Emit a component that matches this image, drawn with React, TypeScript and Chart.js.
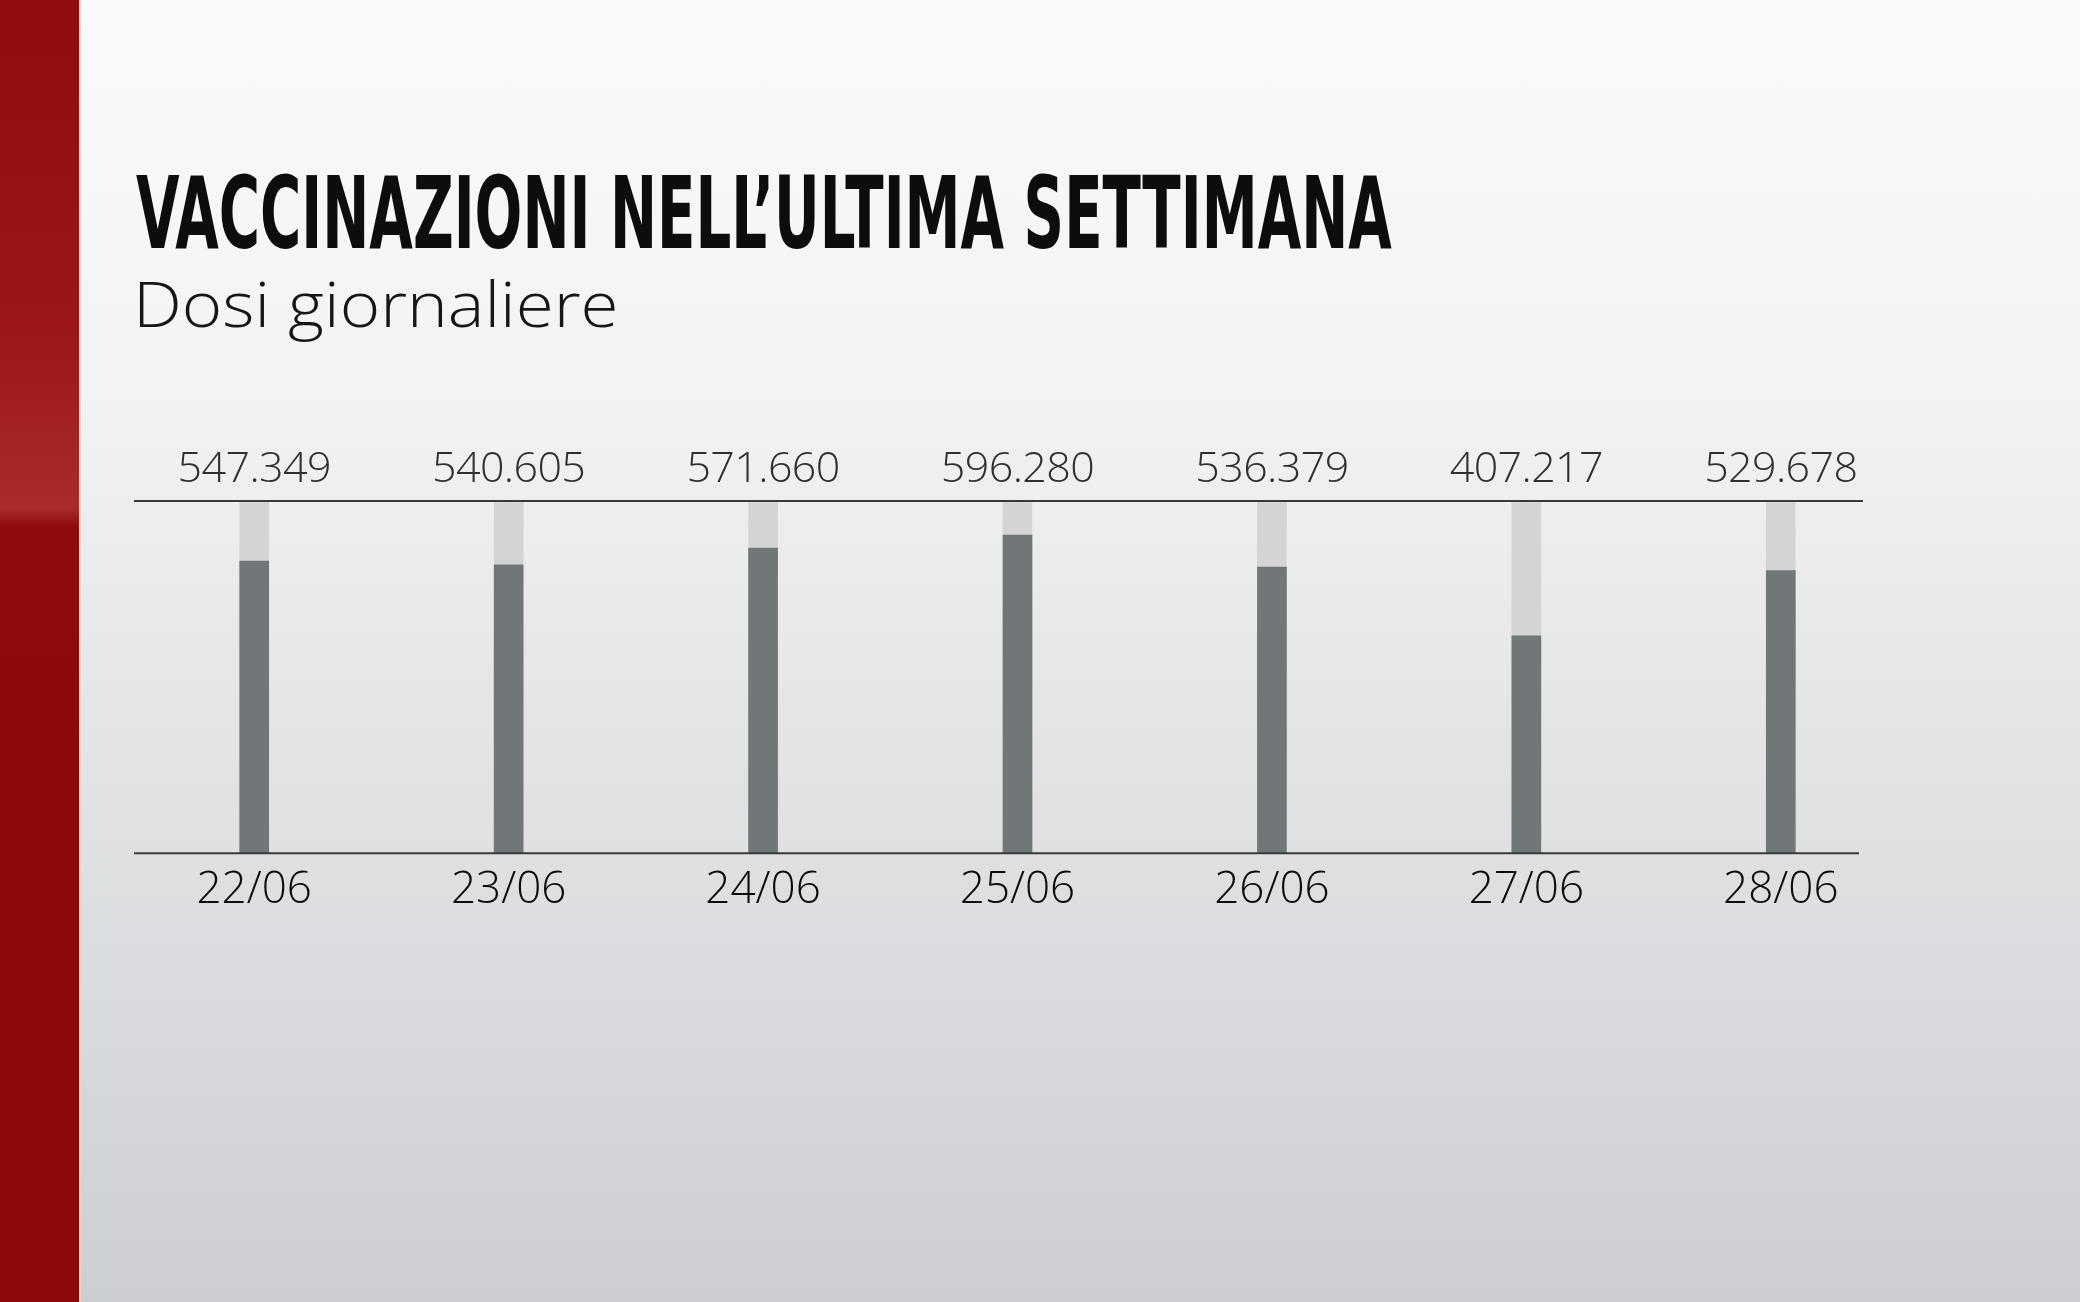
import React, { useEffect, useLayoutEffect, useRef } from 'react';
import { Chart, registerables } from 'chart.js';

Chart.register(...registerables);

const TITLE = 'VACCINAZIONI NELL’ULTIMA SETTIMANA';
const SUBTITLE = 'Dosi giornaliere';
const DATES = ['22/06', '23/06', '24/06', '25/06', '26/06', '27/06', '28/06'];
const DOSES = [547349, 540605, 571660, 596280, 536379, 407217, 529678];
const SCALE_MAX = 660000;
const TRACK = [660000, 660000, 660000, 660000, 660000, 660000, 660000];

function fmt(n: number): string {
  return String(n).replace(/\B(?=(\d{3})+(?!\d))/g, '.');
}

const decor = {
  id: 'decor',
  afterDatasetsDraw(chart: any) {
    const { ctx, chartArea } = chart;
    ctx.save();
    ctx.strokeStyle = '#3a3a3c';
    ctx.lineWidth = 2;
    ctx.beginPath();
    ctx.moveTo(chartArea.left + 7, chartArea.top);
    ctx.lineTo(chartArea.right - 45, chartArea.top);
    ctx.stroke();
    ctx.beginPath();
    ctx.moveTo(chartArea.left + 7, chartArea.bottom);
    ctx.lineTo(chartArea.right - 49, chartArea.bottom);
    ctx.stroke();
    const meta = chart.getDatasetMeta(0);
    ctx.fillStyle = '#303030';
    ctx.font = '300 43px "Open Sans"';
    try {
      (ctx as any).letterSpacing = '-0.6px';
    } catch (e) {}
    ctx.textAlign = 'center';
    ctx.textBaseline = 'alphabetic';
    meta.data.forEach((bar: any, i: number) => {
      ctx.fillText(fmt(DOSES[i]), bar.x, chartArea.top - 19);
    });
    ctx.restore();
  },
};

export default function App() {
  const canvasRef = useRef<HTMLCanvasElement | null>(null);
  const titleRef = useRef<HTMLSpanElement | null>(null);
  const subRef = useRef<HTMLSpanElement | null>(null);

  useLayoutEffect(() => {
    const fit = (el: HTMLSpanElement | null, target: number) => {
      if (!el) return;
      el.style.transform = 'none';
      const w = el.offsetWidth;
      if (w > 0) el.style.transform = `scaleX(${target / w})`;
    };
    fit(titleRef.current, 1256);
    fit(subRef.current, 486);
  }, []);

  useEffect(() => {
    if (!canvasRef.current) return;
    const chart = new Chart(canvasRef.current, {
      type: 'bar',
      data: {
        labels: DATES,
        datasets: [
          {
            data: DOSES,
            backgroundColor: '#717679',
            grouped: false,
            order: 1,
            barThickness: 29,
          } as any,
          {
            data: TRACK,
            backgroundColor: '#d4d4d6',
            grouped: false,
            order: 2,
            barThickness: 29,
          } as any,
        ],
      },
      options: {
        animation: false,
        responsive: false,
        maintainAspectRatio: false,
        layout: { padding: { left: 127, right: 172, top: 501, bottom: 374 } },
        plugins: {
          legend: { display: false },
          tooltip: { enabled: false },
          title: { display: false },
        },
        scales: {
          x: {
            grid: { display: false, drawTicks: false },
            border: { display: false },
            ticks: {
              color: '#0c0c0c',
              font: { family: '"Open Sans"', size: 44, weight: '300' as any },
              padding: 11,
            },
          },
          y: { display: false, min: 0, max: SCALE_MAX },
        },
      },
      plugins: [decor],
    });
    if ((document as any).fonts && (document as any).fonts.ready) {
      (document as any).fonts.ready.then(() => chart.update());
    }
    return () => chart.destroy();
  }, []);

  return (
    <div
      style={{
        position: 'fixed',
        left: 0,
        top: 0,
        width: 2080,
        height: 1302,
        overflow: 'hidden',
        background:
          'linear-gradient(180deg, #fafafa 0%, #f3f3f4 30%, #e5e5e8 55%, #d9dadd 78%, #cdced2 100%)',
      }}
    >
      <div
        style={{
          position: 'absolute',
          left: 0,
          top: 0,
          width: 79,
          height: 1302,
          background:
            'linear-gradient(180deg, #900d0d 0%, #9c1616 25%, #a92b2b 39%, #8f0a0a 40.5%, #8c0a0a 100%)',
          borderRight: '2px solid #e9d2d2',
        }}
      />
      <div
        style={{
          position: 'absolute',
          left: 136,
          top: 164,
          fontFamily: '"Liberation Sans Narrow", "DejaVu Sans Condensed", sans-serif',
          fontWeight: 700,
          fontSize: 100,
          lineHeight: '100px',
          color: '#0d0d0f',
          whiteSpace: 'nowrap',
        }}
      >
        <span ref={titleRef} style={{ display: 'inline-block', transformOrigin: 'left center' }}>
          {TITLE}
        </span>
      </div>
      <div
        style={{
          position: 'absolute',
          left: 133,
          top: 271,
          fontFamily: '"Open Sans", sans-serif',
          fontWeight: 300,
          fontSize: 63,
          lineHeight: '63px',
          color: '#161616',
          whiteSpace: 'nowrap',
        }}
      >
        <span ref={subRef} style={{ display: 'inline-block', transformOrigin: 'left center' }}>
          {SUBTITLE}
        </span>
      </div>
      <canvas
        ref={canvasRef}
        width={2080}
        height={1302}
        style={{ position: 'absolute', left: 0, top: 0, width: 2080, height: 1302, display: 'block' }}
      />
    </div>
  );
}
